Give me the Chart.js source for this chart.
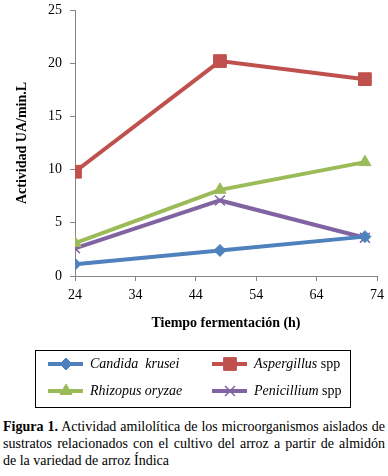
<!DOCTYPE html>
<html>
<head>
<meta charset="utf-8">
<script src="https://cdn.jsdelivr.net/npm/chart.js@4/dist/chart.umd.min.js"></script>
<style>
  body { margin: 0; background: #fff; }
  #wrap { position: relative; width: 388px; height: 476px; }
  #cap { position: absolute; left: 3px; top: 418px; width: 382px; white-space: nowrap;
         font-family: 'Liberation Serif', serif; font-size: 14px; line-height: 17px; color: #000; }
  #cap .j { display: block; text-align: justify; text-align-last: justify; }
</style>
</head>
<body>
<div id="wrap">
  <canvas id="chart" width="388" height="415"></canvas>
  <div id="cap"><span class="j"><b>Figura 1.</b> Actividad amilolítica de los microorganismos aislados de</span><span class="j">sustratos relacionados con el cultivo del arroz a partir de almidón</span><span>de la variedad de arroz Índica</span></div>
</div>
<script>
const tiempos = [24, 48, 72];
const candida = [1.1, 2.4, 3.7];
const aspergillus = [9.8, 20.2, 18.5];
const rhizopus = [3.1, 8.1, 10.7];
const penicillium = [2.6, 7.1, 3.6];
const nombres = [['Candida  krusei', ''], ['Aspergillus', ' spp'], ['Rhizopus oryzae', ''], ['Penicillium', ' spp']];

const FUENTE = '"Liberation Serif", "Times New Roman", serif';

const serie = (vals, color, style, radius) => ({
  data: vals.map((v, i) => ({ x: tiempos[i], y: v })),
  borderColor: color,
  backgroundColor: color,
  borderWidth: 4,
  pointStyle: style,
  pointRadius: radius,
  pointBorderWidth: style === 'crossRot' ? 1.5 : 1,
  pointBorderColor: color,
  tension: 0
});

// leyenda con recuadro dibujada en el canvas
const leyenda = {
  id: 'leyenda',
  afterDraw(chart) {
    const ctx = chart.ctx;
    ctx.save();
    ctx.strokeStyle = '#000';
    ctx.lineWidth = 1;
    ctx.strokeRect(35.5, 350.5, 315, 57);
    const pos = [[48, 364], [212, 364], [48, 391], [212, 391]];
    chart.data.datasets.forEach((ds, k) => {
      const [x, y] = pos[k];
      ctx.strokeStyle = ds.borderColor;
      ctx.lineWidth = 4;
      ctx.beginPath();
      ctx.moveTo(x, y);
      ctx.lineTo(x + 35, y);
      ctx.stroke();
      ctx.fillStyle = ds.backgroundColor;
      ctx.lineWidth = ds.pointBorderWidth;
      Chart.helpers.drawPoint(ctx, {
        pointStyle: ds.pointStyle, radius: ds.pointRadius, rotation: 0,
        borderWidth: ds.pointBorderWidth
      }, x + 18, y);
      ctx.fillStyle = '#000';
      ctx.textBaseline = 'middle';
      ctx.font = 'italic 14px ' + FUENTE;
      ctx.fillText(nombres[k][0], x + 42, y);
      const w = ctx.measureText(nombres[k][0]).width;
      ctx.font = '14px ' + FUENTE;
      ctx.fillText(nombres[k][1], x + 42 + w, y);
    });
    ctx.restore();
  }
};

function dibujar() {
  new Chart(document.getElementById('chart'), {
    type: 'line',
    data: {
      datasets: [
        serie(candida, '#4F81BD', 'rectRot', 6),
        serie(aspergillus, '#C0504D', 'rect', 9),
        serie(rhizopus, '#9BBB59', 'triangle', 7),
        serie(penicillium, '#8064A2', 'crossRot', 7)
      ]
    },
    options: {
      responsive: false,
      animation: false,
      layout: { padding: { top: 8, right: 11, bottom: 0, left: 0 } },
      plugins: { legend: { display: false }, tooltip: { enabled: false } },
      scales: {
        x: {
          type: 'linear', min: 24, max: 74,
          ticks: { stepSize: 10, color: '#000', font: { family: FUENTE, size: 14 }, padding: 6 },
          grid: { drawOnChartArea: false, tickLength: 5, color: '#868686' },
          border: { color: '#868686' },
          title: { display: true, text: 'Tiempo fermentación (h)', color: '#000',
                   font: { family: FUENTE, size: 14, weight: 'bold' }, padding: { top: 0, bottom: 83 } },
          afterFit(s) { s.height = 139; s.paddingLeft = 0; s.paddingRight = 0; }
        },
        y: {
          min: 0, max: 25,
          ticks: { stepSize: 5, color: '#000', font: { family: FUENTE, size: 14 }, padding: 8 },
          grid: { drawOnChartArea: false, tickLength: 5, color: '#868686' },
          border: { color: '#868686' },
          title: { display: true, text: 'Actividad UA/min.L', color: '#000',
                   font: { family: FUENTE, size: 14, weight: 'bold' }, padding: { top: 14, bottom: 0 } },
          afterFit(s) { s.width = 75; s.paddingTop = 0; s.paddingBottom = 0; }
        }
      }
    },
    plugins: [leyenda]
  });
}

document.fonts.load('14px "Liberation Serif"').then(dibujar, dibujar);
</script>
</body>
</html>
